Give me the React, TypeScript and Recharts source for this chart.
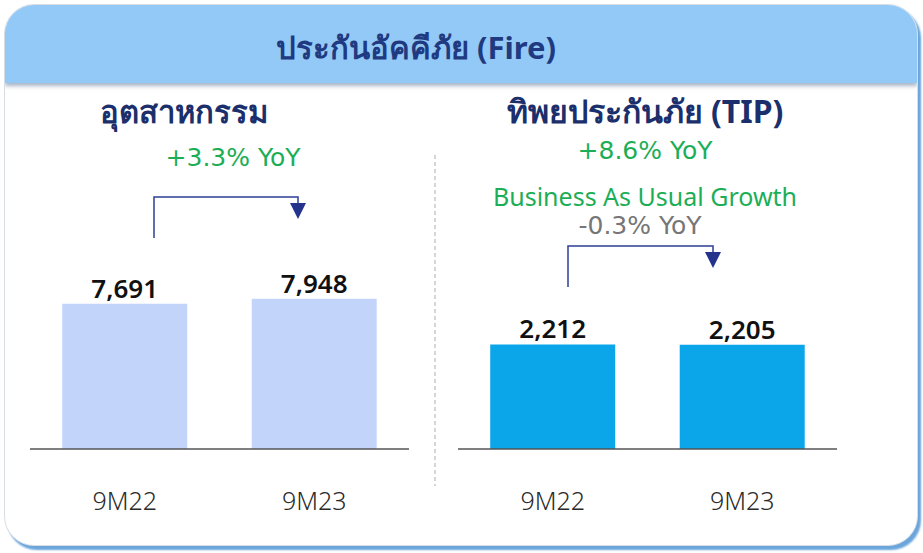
import React from 'react'
import { BarChart, Bar, XAxis, YAxis, LabelList } from 'recharts'

const categories = ['9M22', '9M23']
const industryValues = [7691, 7948]
const tipValues = [2212, 2205]

const NAVY = '#1f3a80'
const GREEN = '#1cae56'
const FONT = '"Noto Sans", "Open Sans", sans-serif'
const WIDE = '"DejaVu Sans", "Noto Sans", sans-serif'

const industryData = categories.map((c, i) => ({ period: c, value: industryValues[i] }))
const tipData = categories.map((c, i) => ({ period: c, value: tipValues[i] }))

const formatValue = (v: any) => Number(v).toLocaleString('en-US')

interface PanelProps {
  data: { period: string; value: number }[]
  max: number
  fill: string
  left: number
}

const PanelChart: React.FC<PanelProps> = ({ data, max, fill, left }) => (
  <div style={{ position: 'absolute', left, top: 250 }}>
    <BarChart
      width={379}
      height={285}
      data={data}
      margin={{ top: 10, right: 0, left: 0, bottom: 0 }}
      barCategoryGap="17%"
    >
      <XAxis
        dataKey="period"
        height={86}
        tickLine={false}
        tickSize={6}
        tickMargin={37}
        axisLine={{ stroke: '#555', strokeWidth: 1.5 }}
        tick={{ fontSize: 25, fontWeight: 300, fill: '#2a2a2a', fontFamily: FONT }}
      />
      <YAxis hide domain={[0, max]} />
      <Bar dataKey="value" fill={fill} isAnimationActive={false}>
        <LabelList
          dataKey="value"
          position="top"
          offset={6}
          formatter={formatValue}
          style={{ fontSize: 26, fontWeight: 600, fill: '#111', fontFamily: FONT }}
        />
      </Bar>
    </BarChart>
  </div>
)

// bracket arrow between the two bars of a panel
const Bracket: React.FC<{ x1: number; x2: number; yTop: number; yStart: number }> = ({ x1, x2, yTop, yStart }) => (
  <g>
    <polyline
      points={`${x1},${yStart} ${x1},${yTop} ${x2},${yTop} ${x2},${yTop + 7}`}
      fill="none"
      stroke="#2c3e94"
      strokeWidth={1.5}
    />
    <polygon points={`${x2 - 8},${yTop + 6} ${x2 + 8},${yTop + 6} ${x2},${yTop + 22}`} fill="#24348c" />
  </g>
)

export default function App() {
  return (
    <div style={{ position: 'absolute', left: 0, top: 0, width: 923, height: 553, background: '#fff', fontFamily: FONT }}>
      <div
        style={{
          position: 'absolute',
          left: 4,
          top: 4,
          width: 912,
          height: 540,
          borderRadius: 30,
          background: '#fff',
          border: '1px solid #d8dde3',
          boxShadow: '3px 4px 2px #6aa5dc',
          overflow: 'hidden',
        }}
      >
        <div
          style={{
            height: 78,
            background: '#92c9f7',
            boxShadow: '0 3px 4px rgba(60,90,130,0.45)',
            position: 'relative',
          }}
        >
          <div
            style={{
              position: 'absolute',
              left: 0,
              width: 822,
              top: 18,
              textAlign: 'center',
              fontSize: 31,
              fontWeight: 700,
              color: NAVY,
            }}
          >
            ประกันอัคคีภัย (Fire)
          </div>
        </div>
      </div>

      <div style={{ position: 'absolute', left: 50, width: 268, top: 87, textAlign: 'center', fontSize: 31, fontWeight: 700, color: '#1a2f6b' }}>
        อุตสาหกรรม
      </div>
      <div style={{ position: 'absolute', left: 470, width: 350, top: 86, textAlign: 'center', fontSize: 32, fontWeight: 700, color: '#1a2f6b' }}>
        ทิพยประกันภัย (TIP)
      </div>

      <div style={{ position: 'absolute', left: 130, width: 206, top: 143, textAlign: 'center', fontSize: 25, color: GREEN, fontFamily: WIDE }}>
        +3.3% YoY
      </div>
      <div style={{ position: 'absolute', left: 540, width: 210, top: 136, textAlign: 'center', fontSize: 25, color: GREEN, fontFamily: WIDE }}>
        +8.6% YoY
      </div>
      <div style={{ position: 'absolute', left: 470, width: 350, top: 179, textAlign: 'center', fontSize: 25, color: GREEN }}>
        Business As Usual Growth
      </div>
      <div style={{ position: 'absolute', left: 535, width: 210, top: 211, textAlign: 'center', fontSize: 25, color: '#767676', fontFamily: WIDE }}>
        -0.3% YoY
      </div>

      <svg style={{ position: 'absolute', left: 0, top: 0 }} width={923} height={553}>
        <line x1={435} y1={155} x2={435} y2={486} stroke="#c8c8c8" strokeWidth={1.5} strokeDasharray="4 3" />
        <Bracket x1={154} x2={298} yTop={197} yStart={238} />
        <Bracket x1={568} x2={713} yTop={246} yStart={287} />
      </svg>

      <PanelChart data={industryData} max={10000} fill="#c3d4fb" left={30} />
      <PanelChart data={tipData} max={4000} fill="#0ba5ea" left={458} />
    </div>
  )
}
